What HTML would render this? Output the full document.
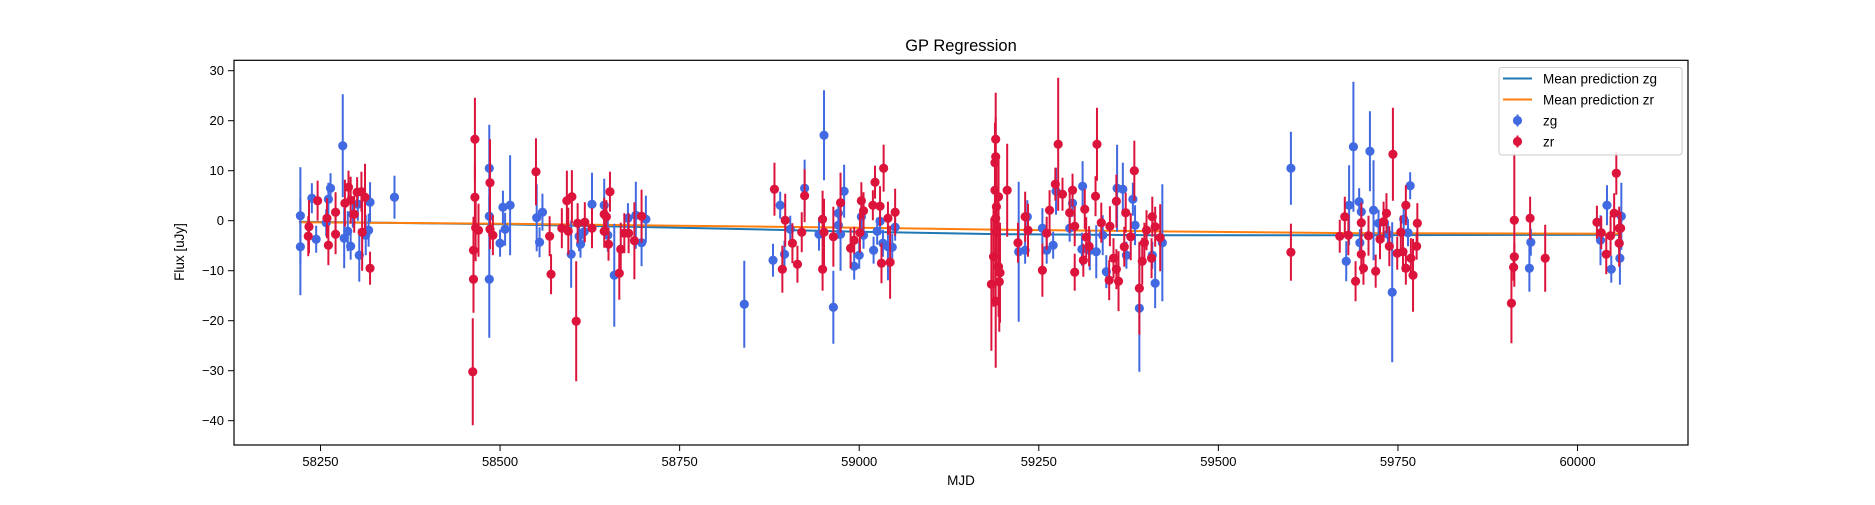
<!DOCTYPE html>
<html><head><meta charset="utf-8"><style>
html,body{margin:0;padding:0;background:#fff;}
svg text{font-family:"Liberation Sans","DejaVu Sans",sans-serif;fill:#000;}
</style></head><body>
<svg id="chart" width="1875" height="500" viewBox="0 0 1875 500" xmlns="http://www.w3.org/2000/svg">
<rect x="0" y="0" width="1875" height="500" fill="#fff"/>
<text x="961" y="51" text-anchor="middle" font-size="16.5">GP Regression</text>
<text x="961" y="485" text-anchor="middle" font-size="13.5">MJD</text>
<text x="0" y="0" transform="translate(184,252) rotate(-90)" text-anchor="middle" font-size="13.5">Flux [uJy]</text>
<g id="plot"></g>
</svg>
<script>
const xTicks = [58250,58500,58750,59000,59250,59500,59750,60000];
const yTicks = [-40,-30,-20,-10,0,10,20,30];
const meanMjd = [58220,58500,58750,59000,59200,59400,59700,60060];
const meanZg = [-0.2,-0.7,-1.4,-2.2,-2.7,-2.9,-2.9,-2.8];
const meanZr = [-0.3,-0.6,-1.0,-1.4,-1.8,-2.1,-2.5,-2.6];
const zgMjd = [58222,58222,58238,58244,58261,58264,58258,58281,58283,58288,58292,58295,58302,58304,58313,58317,58319,58353,58485,58485,58485,58500,58504,58507,58514,58551,58555,58559,58599,58610,58612,58617,58628,58645,58650,58659,
58678,58689,58697,58703,58840,58880,58890,58896,58904,58924,58944,58951,58964,58971,58971,58974,58979,58993,59000,59003,59006,59020,59025,59029,59033,59040,59046,59050,
59222,59231,59234,59255,59261,59270,59274,59293,59297,59310,59311,59321,59330,59339,59344,59359,59367,59372,59381,59384,59390,59408,59412,59422,59601,59678,59682,59688,59696,59697,59699,59711,59716,59723,59736,59742,59758,59764,59767,
59935,59933,60032,60041,60047,60058,60061,60059];
const zgFlux = [1.0,-5.2,4.5,-3.7,4.3,6.5,-0.4,15.0,-3.5,-2.1,-5.1,1.3,3.3,-6.9,-2.9,-1.9,3.7,4.7,10.5,0.9,-11.7,-4.5,2.7,-1.7,3.1,0.6,-4.3,1.7,-6.7,-3.1,-4.7,-2.2,3.3,3.1,-2.9,-10.9,
0.5,1.1,-4.4,0.3,-16.7,-7.9,3.1,-6.7,-1.7,6.5,-2.7,17.1,-17.3,1.5,-0.9,-2.7,5.9,-9.1,-6.9,0.8,-2.9,-5.9,-2.1,-0.1,-4.5,-5.2,-5.3,-1.3,
-6.2,-5.9,0.8,-1.5,-5.9,-4.9,5.9,-1.5,3.5,-5.7,6.9,-5.9,-6.2,-2.9,-10.2,6.5,6.3,-6.9,4.3,-0.9,-17.5,-6.9,-12.5,-4.4,10.5,-8.1,3.1,14.8,3.8,-4.4,1.8,13.9,2.1,-0.5,-2.7,-14.3,0.3,-2.4,7.0,
-4.3,-9.5,-3.9,3.1,-9.7,-4.5,0.9,-7.5];
const zgErr = [9.7,9.7,3.0,2.7,3.3,3.0,2.7,10.3,6.0,4.0,2.7,2.7,3.3,5.3,4.0,3.3,4.0,4.3,8.7,4.0,11.7,2.7,3.3,3.3,10.0,6.7,3.0,3.7,6.7,3.0,2.7,2.7,6.3,5.3,3.3,10.3,
3.0,6.7,4.7,4.7,8.7,3.3,2.7,2.7,2.7,5.7,3.3,9.0,7.3,2.7,2.7,7.3,5.3,2.7,2.7,2.7,2.7,2.7,2.7,2.7,2.7,6.7,2.7,2.7,
14.0,2.7,3.3,4.0,2.7,2.7,4.7,2.7,2.7,3.3,5.0,4.0,5.3,4.0,3.3,8.7,5.3,2.7,3.3,4.0,12.7,2.7,5.0,11.7,7.3,4.0,8.0,13.0,2.7,2.7,2.7,8.0,10.0,2.7,2.7,14.0,2.7,2.7,2.7,
2.7,4.7,5.0,4.0,2.7,3.3,6.7,5.3];
const zrMjd = [58465,58465,58463,58463,58462,58466,58470,58486,58486,58490,58234,58233,58246,58259,58261,58271,58271,58284,58289,58292,58297,58301,58307,58308,58312,58319,58550,58569,58571,58586,58593,58600,58595,58606,58608,58618,58628,58645,58648,58645,58651,58653,
58668,58666,58673,58679,58687,58697,58882,58893,58897,58907,58914,58920,58924,58949,58949,58951,58964,58974,58988,58993,59001,59003,59006,59019,59022,59029,59031,59034,59040,59043,59050,
59190,59190,59189,59189,59191,59194,59190,59191,59187,59194,59196,59184,59195,59190,59206,59221,
59231,59235,59255,59261,59265,59273,59277,59283,59293,59297,59300,59300,59312,59314,59316,59320,59329,59331,59337,59349,59348,59354,59358,59358,59361,59369,59371,59378,59383,59390,59394,59397,59400,59408,59407,59412,59419,
59601,59669,59676,59681,59691,59699,59699,59702,59709,59719,59725,59730,59734,59738,59743,59749,59754,59757,59761,59761,59768,
59771,59776,59777,59912,59912,59911,59908,59934,59955,60027,60033,60040,60046,60051,60054,60058,60058,60060];
const zrFlux = [16.3,4.7,-5.9,-11.7,-30.2,-1.4,-1.9,7.6,-1.7,-2.9,-1.2,-3.1,4.0,0.5,-4.9,1.7,-2.7,3.5,6.7,4.1,1.3,5.7,5.8,-2.3,4.7,-9.5,9.8,-3.1,-10.7,-1.5,4.0,4.8,-2.1,-20.1,-0.5,-0.3,-1.5,1.3,0.8,-2.1,-4.7,5.8,
-5.7,-10.5,-2.5,-2.5,-4.0,0.9,6.3,-9.7,0.1,-4.5,-8.7,-2.3,5.0,0.3,-9.7,-2.3,-3.2,3.6,-5.5,-3.9,-2.4,4.0,2.0,3.1,7.7,2.9,-8.5,10.5,0.5,-8.3,1.7,
16.3,12.8,11.6,6.1,2.8,4.8,0.5,-2.2,-7.2,-9.2,-10.4,-12.7,-12.2,-16.1,6.1,-4.4,
0.8,-1.9,-9.9,-2.5,2.1,7.3,15.3,5.3,1.6,6.1,-1.1,-10.3,-7.9,2.3,-3.3,-5.1,4.9,15.3,-0.4,-1.1,-11.9,-7.5,3.9,-9.7,-12.1,-5.2,1.6,-3.2,10.0,-13.5,-8.1,-4.4,-1.9,0.8,-7.5,-1.2,-3.4,
-6.3,-3.1,0.8,-2.9,-12.1,-0.4,-6.7,-9.5,-3.0,-10.1,-3.7,-0.2,1.5,-5.1,13.3,-6.5,-2.3,-6.2,3.1,-9.5,-7.5,
-10.9,-5.1,-0.5,0.1,-7.2,-9.3,-16.5,0.5,-7.5,-0.3,-2.4,-6.7,-3.0,1.5,9.5,-1.5,-4.5,-1.5];
const zrErr = [8.3,6.7,6.7,6.7,10.7,6.7,5.3,8.7,4.0,4.0,5.3,4.0,4.0,4.0,4.0,4.0,4.0,4.7,3.3,4.7,3.7,3.0,4.0,7.7,6.7,3.3,6.7,4.0,4.0,4.0,6.0,5.3,4.7,12.0,4.0,4.0,4.0,3.3,3.3,3.3,3.3,4.0,
5.3,5.3,4.0,4.0,7.7,5.3,5.3,4.7,5.3,4.0,3.7,4.0,5.3,5.7,4.3,6.7,6.0,6.0,4.0,2.7,4.0,3.7,3.7,3.0,3.3,4.0,4.0,4.7,3.3,7.3,4.7,
9.3,8.0,8.0,8.0,10.0,8.0,8.0,8.7,10.0,10.0,10.0,13.3,10.0,13.3,9.3,4.0,
5.0,5.3,5.3,3.3,4.0,3.3,13.3,3.3,4.0,3.3,4.0,3.7,3.3,4.0,4.0,4.0,4.0,7.3,4.0,4.0,4.0,4.0,5.3,4.0,6.0,4.0,4.0,4.7,6.0,9.3,4.7,4.0,4.0,4.0,4.0,4.0,6.7,
5.7,3.3,4.0,4.0,4.0,4.0,4.0,3.3,4.0,3.3,4.0,4.0,4.0,4.0,9.3,3.3,3.3,4.0,4.0,3.3,4.0,
7.3,2.7,4.0,13.3,2.7,2.7,8.0,4.3,6.7,3.3,3.3,4.0,4.0,4.0,4.3,4.3,4.7,3.3];

const NS='http://www.w3.org/2000/svg';
const L=234,R=1688,T=60.3,B=445;
const X0=58129.6,X1=60153.8,Y0=-44.86,Y1=32.08;
function sx(v){return L+(v-X0)/(X1-X0)*(R-L);}
function sy(v){return B-(v-Y0)/(Y1-Y0)*(B-T);}
const svg=document.getElementById('chart');
const plot=document.getElementById('plot');
function mk(tag,attrs,parent){const e=document.createElementNS(NS,tag);for(const k in attrs)e.setAttribute(k,attrs[k]);(parent||plot).appendChild(e);return e;}

// axes ticks
xTicks.forEach(t=>{
  const x=sx(t);
  const tk=mk('line',{x1:x,x2:x,y1:B,y2:B+6,stroke:'#000','stroke-width':1});
  
  
  const lb=mk('text',{x:x,y:B+21,'text-anchor':'middle','font-size':13});
  lb.textContent=String(t);
  
  
});
yTicks.forEach(t=>{
  const y=sy(t);
  const tk=mk('line',{x1:L-6,x2:L,y1:y,y2:y,stroke:'#000','stroke-width':1});
  
  
  const lb=mk('text',{x:L-10,y:y+4.5,'text-anchor':'end','font-size':13});
  lb.textContent=(t<0?'\u2212'+Math.abs(t):String(t));
  
  
});

// mean lines
function meanLine(vals,color,name){
  const d=meanMjd.map((m,i)=>(i?'L':'M')+sx(m).toFixed(1)+','+sy(vals[i]).toFixed(1)).join(' ');
  const p=mk('path',{d:d,fill:'none',stroke:color,'stroke-width':2});
  
  
}
meanLine(meanZg,'#1f77b4','mean-prediction-zg-line');
meanLine(meanZr,'#ff7f0e','mean-prediction-zr-line');

function series(ms,fs,es,color,name){
  const g=mk('g',{});
  
  
  ms.forEach((m,i)=>{
    const x=sx(m),y=sy(fs[i]);
    const ln=mk('line',{x1:x,x2:x,y1:sy(fs[i]+es[i]),y2:sy(fs[i]-es[i]),stroke:color,'stroke-width':2},g);
    
    
    const c=mk('circle',{cx:x,cy:y,r:4.6,fill:color},g);
    
    
  });
}
series(zgMjd,zgFlux,zgErr,'#4169e1','zg');
series(zrMjd,zrFlux,zrErr,'#dc143c','zr');

// frame
const fr=mk('rect',{x:L,y:T,width:R-L,height:B-T,fill:'none',stroke:'#000','stroke-width':1.2});



// legend
const lg=mk('g',{});


const lb=mk('rect',{x:1499,y:67.5,width:183,height:87.5,rx:3,fill:'#fff','fill-opacity':0.85,stroke:'#ccc','stroke-width':1},lg);


const entries=[['line','#1f77b4','Mean prediction zg','legend-entry-zg-mean'],['line','#ff7f0e','Mean prediction zr','legend-entry-zr-mean'],['pt','#4169e1','zg','legend-entry-zg'],['pt','#dc143c','zr','legend-entry-zr']];
entries.forEach((e,i)=>{
  const y=78.5+i*21;
  const g=mk('g',{},lg);
  
  
  if(e[0]==='line'){
    mk('line',{x1:1503,x2:1532,y1:y,y2:y,stroke:e[1],'stroke-width':2},g);
  }else{
    mk('line',{x1:1517.5,x2:1517.5,y1:y-6,y2:y+6,stroke:e[1],'stroke-width':2},g);
    mk('circle',{cx:1517.5,cy:y,r:4.6,fill:e[1]},g);
  }
  const t=mk('text',{x:1543,y:y+5,'font-size':13.5},g);
  t.textContent=e[2];
});
</script>
</body></html>
